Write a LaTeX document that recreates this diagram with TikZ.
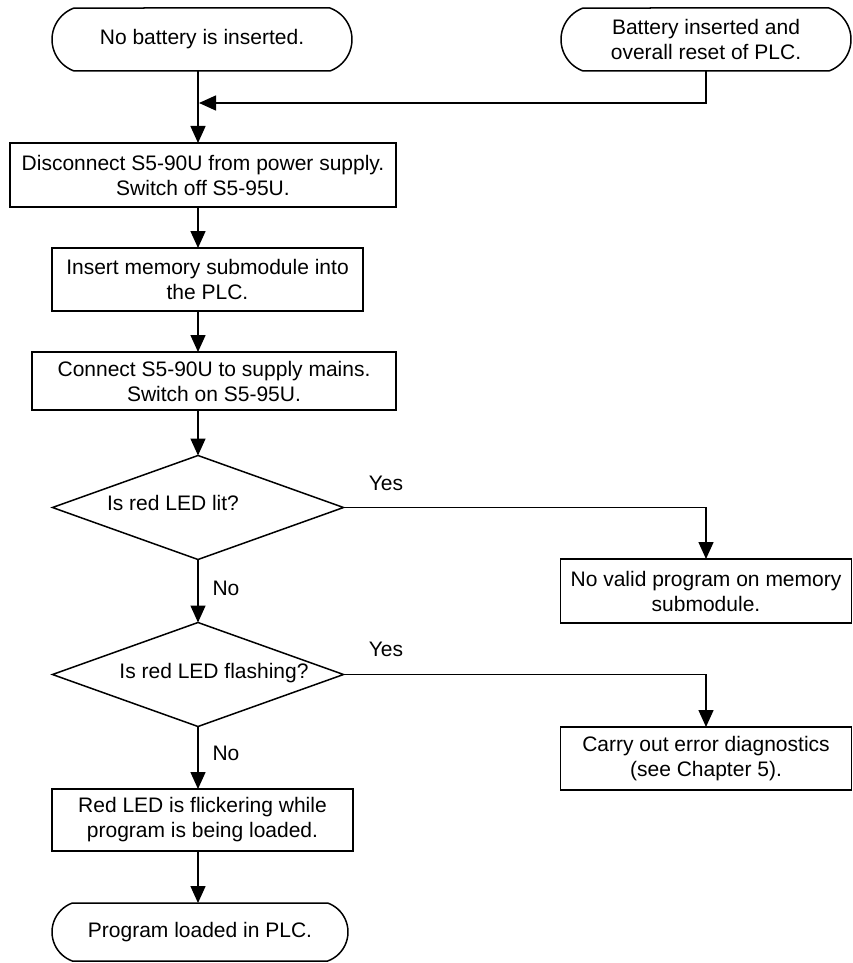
\documentclass[tikz,border=0pt]{standalone}
\usepackage{fontspec}
\setmainfont{Liberation Sans}
\usetikzlibrary{shapes.misc,shapes.geometric,arrows.meta}
\begin{document}
\begin{tikzpicture}[x=1pt,y=-1pt,
  every node/.style={font=\fontsize{21}{25}\selectfont, align=center, inner sep=0pt, outer sep=0pt},
  term/.style={draw, line width=1.5pt, rounded rectangle, rounded rectangle arc length=140},
  stepbox/.style={draw, line width=1.6pt, rectangle},
  decision/.style={draw, line width=1.5pt, diamond},
  lbl/.style={font=\fontsize{21}{25}\selectfont},
  arr/.style={line width=1.5pt, -{Triangle[length=17pt,width=15pt]}},
  ln/.style={line width=1.5pt}]
\useasboundingbox (0,0) rectangle (853,963);
\fill[white] (0,0) rectangle (853,963);

% vertical main axis
\coordinate (L) at (198,0);
\coordinate (J) at (199,103);

% terminators
\node[term, minimum width=300pt, minimum height=63pt] (T1) at (202,39.5) {No battery is inserted.};
\node[term, minimum width=290pt, minimum height=63pt] (T2) at (706,39.5) {Battery inserted and\\overall reset of PLC.};

% process boxes
\node[stepbox, minimum width=386pt, minimum height=64pt] (B1) at (203,175) {Disconnect S5-90U from power supply.\\Switch off S5-95U.};
\node[stepbox, minimum width=311pt, minimum height=63pt] (B2) at (207.5,279.5) {Insert memory submodule into\\the PLC.};
\node[stepbox, minimum width=364pt, minimum height=58pt] (B3) at (214,381) {Connect S5-90U to supply mains.\\Switch on S5-95U.};

% decisions
\node[decision, minimum width=291pt, minimum height=104pt] (D1) at (198,507.5) {};
\node at (173,503) {Is red LED lit?};
\node[decision, minimum width=291pt, minimum height=104pt] (D2) at (198,674.5) {};
\node at (214,673) {Is red LED flashing?};

% right-hand results
\node[stepbox, minimum width=291pt, minimum height=64pt] (R1) at (706,591) {No valid program on memory\\submodule.};
\node[stepbox, minimum width=291pt, minimum height=63pt] (R2) at (706,758.5) {Carry out error diagnostics\\(see Chapter 5).};

% lower path
\node[stepbox, minimum width=301pt, minimum height=62pt] (B4) at (202.5,820) {Red LED is flickering while\\program is being loaded.};
\node[term, minimum width=296pt, minimum height=58pt] (T3) at (200,932) {Program loaded in PLC.};

% connectors
\draw[arr] (T1.south -| L) -- (B1.north -| L);
\draw[arr] (T2.south) |- (J);
\draw[arr] (B1.south -| L) -- (B2.north -| L);
\draw[arr] (B2.south -| L) -- (B3.north -| L);
\draw[arr] (B3.south -| L) -- (D1.north);
\draw[arr] (D1.south) -- (D2.north);
\draw[arr] (D2.south) -- (B4.north -| L);
\draw[arr] (B4.south -| L) -- (T3.north -| L);
\draw[arr] (D1.east) -| (R1.north);
\draw[arr] (D2.east) -| (R2.north);

% labels
\node[lbl] at (386,483) {Yes};
\node[lbl] at (386,649) {Yes};
\node[lbl] at (226,588) {No};
\node[lbl] at (226,753) {No};
\end{tikzpicture}
\end{document}
